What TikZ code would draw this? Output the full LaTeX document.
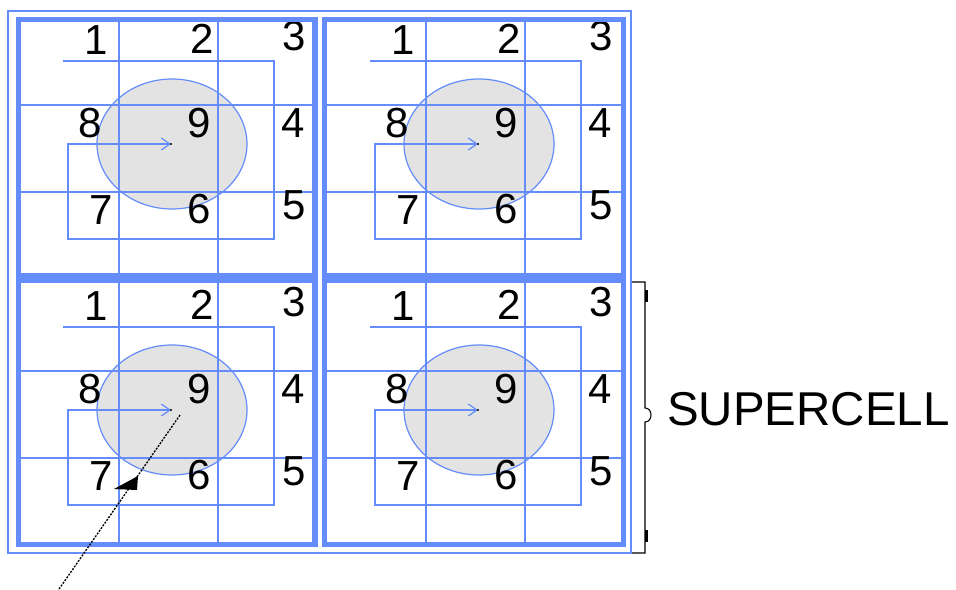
\documentclass[tikz,border=0pt]{standalone}
\usepackage{fontspec}
\setmainfont{Liberation Sans}
\usetikzlibrary{arrows.meta}
\definecolor{gridblue}{RGB}{100,140,250}
\definecolor{cellgray}{RGB}{227,227,227}
\tikzset{
  thinblue/.style={draw=gridblue, line width=0.9pt},
  thickblue/.style={draw=gridblue, line width=4.3pt},
  outerblue/.style={draw=gridblue, line width=1.1pt},
  digit/.style={font=\fontsize{31.5}{31.5}\selectfont, inner sep=0pt, text=black},
  spiralarrow/.style={thinblue, -{Straight Barb[length=6.5pt,width=9pt]}},
  leader/.style={draw=black, line width=1pt, dash pattern=on 1.5pt off 1pt},
  bracketline/.style={draw=black, line width=0.8pt},
}
\begin{document}
\begin{tikzpicture}[x=0.75pt,y=-0.75pt]
\useasboundingbox (0,0) rectangle (956,589);
\foreach \n/\xa/\ya/\xb/\yb/\sx/\sy in {TL/18.5/19.5/315/276/0/0, TR/324.5/19.5/623.5/276/307/0, BL/18.5/280.5/315/544.5/0/266, BR/324.5/280.5/623.5/544.5/307/266}{
  % shaded cell
  \fill[cellgray] (172+\sx,144+\sy) ellipse [x radius=56.25pt, y radius=48.75pt];
  % 3x3 grid
  \draw[thinblue] (119+\sx,\ya) -- (119+\sx,\yb);
  \draw[thinblue] (218+\sx,\ya) -- (218+\sx,\yb);
  \draw[thinblue] (\xa,105+\sy) -- (\xb,105+\sy);
  \draw[thinblue] (\xa,192+\sy) -- (\xb,192+\sy);
  % circle outline
  \draw[thinblue] (172+\sx,144+\sy) ellipse [x radius=56.25pt, y radius=48.75pt];
  % spiral path
  \coordinate (s0-\n) at (63+\sx,61+\sy);
  \coordinate (s1-\n) at (274+\sx,61+\sy);
  \coordinate (s2-\n) at (274+\sx,239+\sy);
  \coordinate (s3-\n) at (68+\sx,239+\sy);
  \coordinate (s4-\n) at (68+\sx,144+\sy);
  \coordinate (s5-\n) at (171+\sx,144+\sy);
  \draw[spiralarrow] (s0-\n) -- (s1-\n) -- (s2-\n) -- (s3-\n) -- (s4-\n) -- (s5-\n);
  \fill[black] (s5-\n) circle (0.9pt);
  % digits
  \node[digit] (d1-\n) at (96+\sx,40+\sy) {1};
  \node[digit] (d2-\n) at (202+\sx,39+\sy) {2};
  \node[digit] (d3-\n) at (294+\sx,36+\sy) {3};
  \node[digit] (d8-\n) at (90+\sx,123+\sy) {8};
  \node[digit] (d9-\n) at (199+\sx,123+\sy) {9};
  \node[digit] (d4-\n) at (293+\sx,123+\sy) {4};
  \node[digit] (d7-\n) at (101+\sx,210+\sy) {7};
  \node[digit] (d6-\n) at (199+\sx,209+\sy) {6};
  \node[digit] (d5-\n) at (294+\sx,205+\sy) {5};
  % supercell border
  \draw[thickblue] (\xa,\ya) rectangle (\xb,\yb);
}
% outer frame
\draw[outerblue] (8,11) rectangle (631,553);
% bracket
\coordinate (bt0) at (632,282);
\coordinate (bt1) at (645,282);
\coordinate (bm0) at (645,408);
\coordinate (bm1) at (645,422);
\coordinate (bb1) at (645,553);
\coordinate (bb0) at (632,553);
\draw[bracketline] (bt0) -- (bt1) -- (bm0) .. controls (653,408) and (653,422) .. (bm1) -- (bb1) -- (bb0);
\draw[black, line width=2pt] (646.5,290) -- (646.5,302);
\draw[black, line width=2pt] (646.5,530) -- (646.5,542);
\node[anchor=base west, inner sep=0pt, font=\fontsize{35.6}{35.6}\selectfont] (label) at (667,425) {SUPERCELL};
% leader
\coordinate (la) at (180,415);
\coordinate (lb) at (57,592);
\draw[leader] (la) -- (lb);
\fill[black] (114,489) -- (138,476) -- (137,490) -- cycle;
\end{tikzpicture}
\end{document}
